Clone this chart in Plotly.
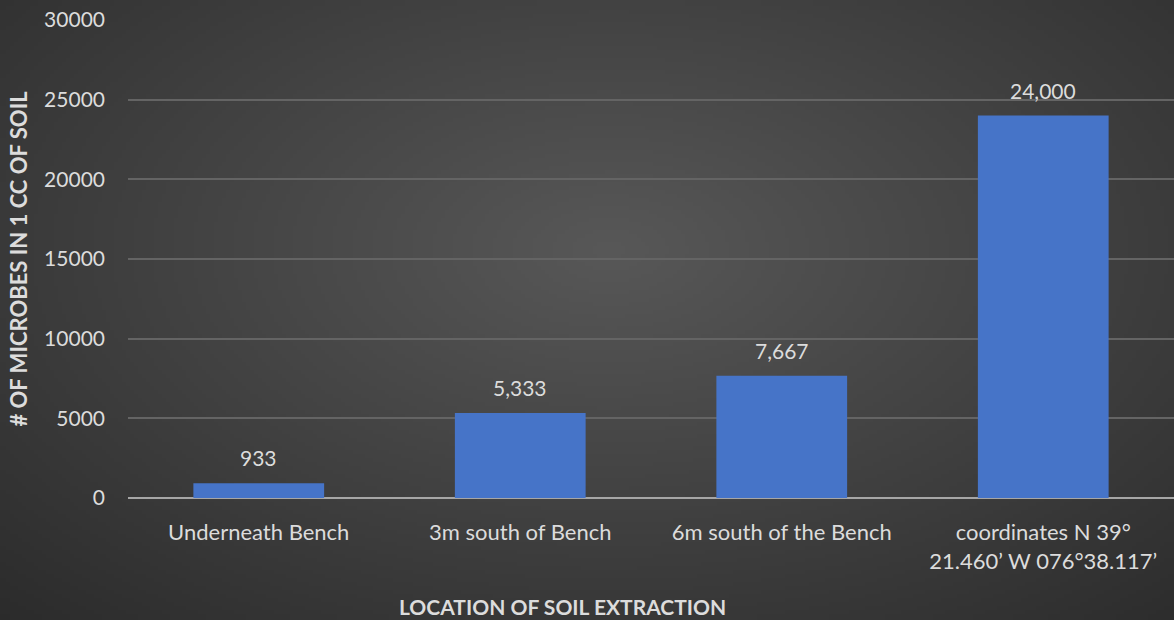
import base64, struct, zlib
import numpy as np
import plotly.graph_objects as go

categories = ["Underneath Bench", "3m south of Bench", "6m south of the Bench",
              "coordinates N 39°<br>21.460’ W 076°38.117’"]
values = [933, 5333, 7667, 24000]
value_labels = ["933", "5,333", "7,667", "24,000"]
y_ticks = [0, 5000, 10000, 15000, 20000, 25000, 30000]


def png_b64(arr):
    h, w = arr.shape[:2]
    raw = b"".join(b"\x00" + arr[i].tobytes() for i in range(h))
    def chunk(t, d):
        c = struct.pack(">I", len(d)) + t + d
        return c + struct.pack(">I", zlib.crc32(t + d) & 0xffffffff)
    png = b"\x89PNG\r\n\x1a\n" + chunk(b"IHDR", struct.pack(">IIBBBBB", w, h, 8, 2, 0, 0, 0)) \
        + chunk(b"IDAT", zlib.compress(raw, 9)) + chunk(b"IEND", b"")
    return "data:image/png;base64," + base64.b64encode(png).decode()


W, H = 1174, 620
sw, sh = 294, 155
yy, xx = np.mgrid[0:sh, 0:sw]
px = (xx + 0.5) * W / sw
py = (yy + 0.5) * H / sh
d = np.sqrt(((px - 610) / 900) ** 2 + ((py - 250) / 515) ** 2)
d = np.clip(d, 0, 1)
v = (88 - 45 * d).astype(np.uint8)
img = np.stack([v, v, v], axis=-1)
bg = png_b64(img)

TXT = "#dcdcdc"
FS = 21

fig = go.Figure()
fig.add_trace(go.Bar(
    x=categories, y=values, width=0.5,
    marker=dict(color="#4674c8", line=dict(width=0)),
    hoverinfo="skip",
))

for c, val, lab in zip(categories, values, value_labels):
    fig.add_annotation(x=c, y=val, text=lab, showarrow=False, yanchor="bottom",
                       yshift=11, font=dict(size=FS, color=TXT, family="Lato"))

fig.add_annotation(xref="paper", yref="paper", x=(562 - 128) / (1174 - 128), y=-0.227,
                   yanchor="middle", text="<b>LOCATION OF SOIL EXTRACTION</b>",
                   showarrow=False, font=dict(size=21, color=TXT, family="Lato"))

fig.update_layout(
    width=W, height=H,
    margin=dict(l=128, r=0, t=20, b=122),
    paper_bgcolor="#3a3a3a",
    plot_bgcolor="rgba(0,0,0,0)",
    showlegend=False,
    bargap=0.5,
    font=dict(family="Lato", color=TXT, size=FS),
    images=[dict(source=bg, xref="paper", yref="paper",
                 x=-128 / 1046, y=1 + 20 / 478, sizex=1174 / 1046, sizey=620 / 478,
                 xanchor="left", yanchor="top", sizing="stretch", layer="below")],
    xaxis=dict(showgrid=False, showline=False, ticks="", tickfont=dict(size=22, color=TXT),
               ticklabelstandoff=19),
    yaxis=dict(range=[0, 30000], tickvals=y_ticks, ticktext=[str(t) for t in y_ticks],
               showgrid=True, gridcolor="#646464", gridwidth=2,
               zeroline=True, zerolinecolor="#a6a6a6", zerolinewidth=2,
               showline=False, ticks="", ticklabelstandoff=22,
               tickfont=dict(size=FS, color=TXT),
               title=dict(text="<b># OF MICROBES IN 1 CC OF SOIL</b>", standoff=10,
                          font=dict(size=22, color=TXT, family="Lato"))),
)

fig.write_html("out.html")
